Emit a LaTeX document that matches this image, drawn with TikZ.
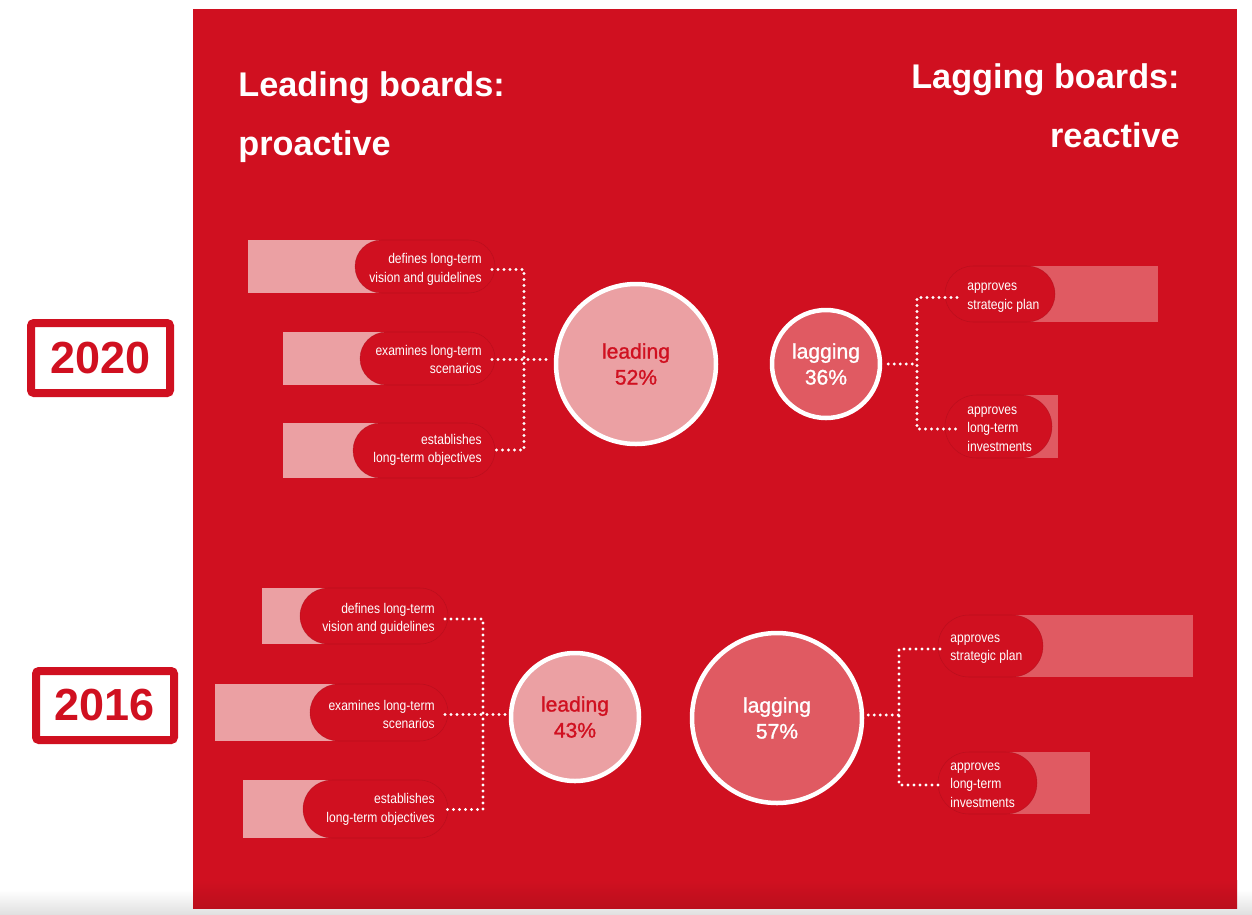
\documentclass[tikz,border=0pt]{standalone}
\usepackage{fontspec}
\setmainfont{Liberation Sans}
\newfontfamily\narrowfont[FakeStretch=0.86]{Liberation Sans}
\newfontfamily\circfont[FakeBold=1.2]{Liberation Sans}
\usetikzlibrary{positioning}
\definecolor{panelred}{RGB}{208,16,32}
\definecolor{pinklight}{RGB}{235,160,163}
\definecolor{pinkdark}{RGB}{224,90,98}
\newlength\pxu
\setlength\pxu{0.02cm}

\begin{document}
\begin{tikzpicture}[x=0.02cm, y=-0.02cm,
  header/.style={inner sep=0pt, text=white, font=\bfseries\fontsize{19.5}{34}\selectfont},
  yearbox/.style={draw=panelred, line width=8\pxu, rounded corners=3\pxu, fill=white, text=panelred, inner sep=0pt, font=\bfseries\fontsize{25.6}{30}\selectfont},
  barlight/.style={fill=pinklight},
  bardark/.style={fill=pinkdark},
  tab/.style={fill=panelred, draw=black!20!panelred, draw opacity=0.5, line width=0.3pt},
  lbl/.style={text=white, inner xsep=10\pxu, inner ysep=0pt, font=\narrowfont\fontsize{8}{10.5}\selectfont},
  circ/.style={circle, draw=white, line width=4.5\pxu, inner sep=0pt, align=center, font=\circfont\fontsize{12}{14.8}\selectfont},
  lead/.style={circ, fill=pinklight, text=panelred},
  lag/.style={circ, fill=pinkdark, text=white},
  dots/.style={draw=white, line width=3.2\pxu, line cap=round, dash pattern=on 0pt off 6\pxu}
]
\useasboundingbox (0,0) rectangle (1252,914);
\fill[white] (0,0) rectangle (1252,914);
\shade[top color=white, bottom color=black!12] (0,890) rectangle (1252,914);
\fill[panelred] (193,9) rectangle (1237,908);
\shade[top color=panelred, bottom color=panelred!90!black] (193,880) rectangle (1237,908);

% headers
\node[header, anchor=north west, align=left] (hdlead) at (238,71) {Leading boards:\\proactive};
\node[header, anchor=north east, align=right] (hdlag) at (1180,63) {Lagging boards:\\reactive};

% years
\node[yearbox, minimum width=139\pxu, minimum height=70\pxu] (y20) at (100.5,358) {2020};
\node[yearbox, minimum width=138\pxu, minimum height=69\pxu] (y16) at (105,705.5) {2016};

% 2020 left
\fill[barlight] (248,240) rectangle (400,293);
\fill[barlight] (283,332) rectangle (400,385);
\fill[barlight] (283,423) rectangle (400,478);
\draw[tab, rounded corners=26.5\pxu] (355,240) rectangle (495,293);
\draw[tab, rounded corners=26.5\pxu] (360,332) rectangle (495,385);
\draw[tab, rounded corners=27.5\pxu] (353,423) rectangle (495,478);
\node[lbl, anchor=east, align=right] (def20) at (492,269.5) {defines long-term\\vision and guidelines};
\node[lbl, anchor=east, align=right] (exa20) at (492,359.5) {examines long-term\\scenarios};
\node[lbl, anchor=east, align=right] (est20) at (492,450) {establishes\\long-term objectives};
\coordinate (jl20) at (524,360);
\node[lead, minimum size=160\pxu] (lead20) at (636,364) {leading\\52\%};
\draw[dots] (def20.east) -| (jl20) |- (est20.east);
\draw[dots, shorten >=6\pxu] (exa20.east) -- (exa20.east -| lead20.west);

% 2020 right
\fill[bardark] (1000,266) rectangle (1158,322);
\fill[bardark] (1000,395) rectangle (1058,458);
\draw[tab, rounded corners=28\pxu] (945,266) rectangle (1055,322);
\draw[tab, rounded corners=31.5\pxu] (945,395) rectangle (1052,458);
\node[lbl, anchor=west, align=left] (str20) at (957,297.5) {approves\\strategic plan};
\node[lbl, anchor=west, align=left] (inv20) at (957,429) {approves\\long-term\\investments};
\node[lag, minimum size=108\pxu] (lag20) at (826,364) {lagging\\36\%};
\coordinate (jr20) at (917,364);
\draw[dots] (str20.west) -| (jr20) |- (inv20.west);
\draw[dots, shorten <=6\pxu] (lag20.east) -- (jr20);

% 2016 left
\fill[barlight] (262,588) rectangle (360,644);
\fill[barlight] (215,684) rectangle (360,741);
\fill[barlight] (243,780) rectangle (360,838);
\draw[tab, rounded corners=28\pxu] (300,588) rectangle (448,644);
\draw[tab, rounded corners=28.5\pxu] (310,684) rectangle (448,741);
\draw[tab, rounded corners=29\pxu] (303,780) rectangle (448,838);
\node[lbl, anchor=east, align=right] (def16) at (445,619) {defines long-term\\vision and guidelines};
\node[lbl, anchor=east, align=right] (exa16) at (445,714.5) {examines long-term\\scenarios};
\node[lbl, anchor=east, align=right] (est16) at (445,809.5) {establishes\\long-term objectives};
\coordinate (jl16) at (483,715);
\node[lead, minimum size=128\pxu] (lead16) at (575,717) {leading\\43\%};
\draw[dots] (def16.east) -| (jl16) |- (est16.east);
\draw[dots, shorten >=2\pxu] (exa16.east) -- (exa16.east -| lead16.west);

% 2016 right
\fill[bardark] (1000,615) rectangle (1193,677);
\fill[bardark] (1000,752) rectangle (1090,814);
\draw[tab, rounded corners=31\pxu] (938,615) rectangle (1043,677);
\draw[tab, rounded corners=31\pxu] (938,752) rectangle (1037,814);
\node[lbl, anchor=west, align=left] (str16) at (940,649) {approves\\strategic plan};
\node[lbl, anchor=west, align=left] (inv16) at (940,785) {approves\\long-term\\investments};
\node[lag, minimum size=170\pxu] (lag16) at (777,718) {lagging\\57\%};
\coordinate (jr16) at (899,715);
\draw[dots] (str16.west) -| (jr16) |- (inv16.west);
\draw[dots, shorten <=4\pxu] (lag16.east |- jr16) -- (jr16);
\end{tikzpicture}
\end{document}
